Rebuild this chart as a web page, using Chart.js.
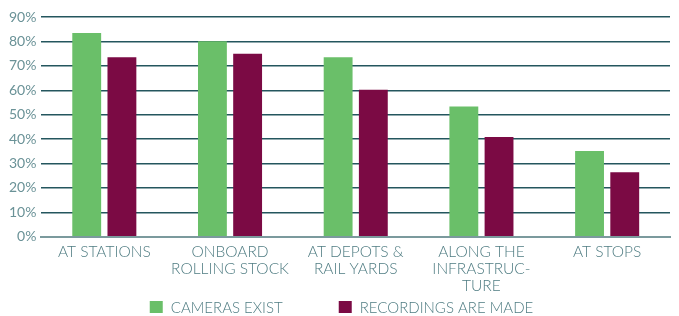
<!DOCTYPE html>
<html lang="en">
<head>
    <meta charset="UTF-8">
    <title>CCTV on railways</title>
    <script src="https://cdn.jsdelivr.net/npm/chart.js"></script>
    <style>
        body { margin: 0; background: white; }
        .wrap { width: 679px; height: 316px; }
    </style>
</head>
<body>
    <div class="wrap"><canvas id="myChart"></canvas></div>
    <script>
        const categories = [
            ['At stations'],
            ['Onboard', 'rolling stock'],
            ['At Depots &', 'Rail yards'],
            ['Along the', 'Infrastruc-', 'ture'],
            ['At Stops']
        ];
        const camerasExist = [83.4, 80.1, 73.5, 53.3, 35.1];
        const recordingsMade = [73.5, 74.9, 60.2, 40.9, 26.4];
        const seriesNames = ['Cameras exist', 'Recordings are made'];
        const seriesColors = ['#6abf69', '#7b0a44'];

        const textColor = '#4f7c82';
        const labelFont = '300 15px Lato';

        // legend drawn by hand: the built-in one can't do the wide gap between items
        const bottomLegend = {
            id: 'bottomLegend',
            afterDraw(chart) {
                const c = chart.ctx;
                const box = 13, gapText = 8, gapItem = 56;
                c.save();
                c.font = labelFont;
                c.textBaseline = 'middle';
                const items = chart.data.datasets.map(ds => ({
                    text: ds.label.toUpperCase(),
                    color: ds.backgroundColor
                }));
                let total = 0;
                items.forEach((it, i) => {
                    it.w = c.measureText(it.text).width;
                    total += box + gapText + it.w + (i > 0 ? gapItem : 0);
                });
                let x = (chart.width - total) / 2 + 2;
                const y = chart.height - 9;
                items.forEach(it => {
                    c.fillStyle = it.color;
                    c.fillRect(x, y - 6, box, 12);
                    x += box + gapText;
                    c.fillStyle = textColor;
                    c.fillText(it.text, x, y + 1);
                    x += it.w + gapItem;
                });
                c.restore();
            }
        };

        const ctx = document.getElementById('myChart').getContext('2d');
        const myChart = new Chart(ctx, {
            type: 'bar',
            data: {
                labels: categories,
                datasets: [{
                    label: seriesNames[0],
                    data: camerasExist,
                    backgroundColor: seriesColors[0]
                }, {
                    label: seriesNames[1],
                    data: recordingsMade,
                    backgroundColor: seriesColors[1]
                }]
            },
            options: {
                responsive: true,
                maintainAspectRatio: false,
                animation: false,
                categoryPercentage: 0.56,
                barPercentage: 0.82,
                layout: { padding: { top: 17, right: 9, left: 4, bottom: 15 } },
                plugins: {
                    tooltip: { enabled: false },
                    legend: { display: false }
                },
                scales: {
                    x: {
                        grid: { display: false, drawTicks: false },
                        border: { color: '#7b9a9d', width: 2 },
                        ticks: {
                            color: textColor,
                            font: { family: 'Lato', size: 15.5, weight: 300, lineHeight: 1.08 },
                            maxRotation: 0,
                            autoSkip: false,
                            padding: 7,
                            callback(value) {
                                return categories[value].map(s => s.toUpperCase());
                            }
                        }
                    },
                    y: {
                        min: 0,
                        max: 90,
                        border: { display: false },
                        grid: {
                            color: '#24565e',
                            lineWidth: 1.5,
                            drawTicks: false
                        },
                        ticks: {
                            stepSize: 10,
                            color: '#6a9297',
                            padding: 5,
                            font: { family: 'Lato', size: 14 },
                            callback: v => v + '%'
                        }
                    }
                }
            },
            plugins: [bottomLegend]
        });
    </script>
</body>
</html>
